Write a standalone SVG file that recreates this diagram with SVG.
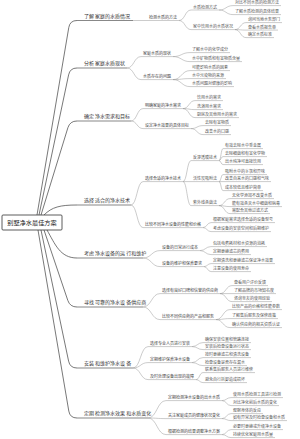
<svg xmlns="http://www.w3.org/2000/svg" width="300" height="439" viewBox="0 0 300 439">
<style>
text{font-family:"Noto Sans CJK SC","Noto Sans",sans-serif}
.r{font-size:6.2px;fill:#222;text-anchor:middle}
.t1{font-size:5px;fill:#333}
.t2{font-size:4px;fill:#444}
.t3{font-size:4px;fill:#555}
.u1{stroke:#555;stroke-width:.7;fill:none}
.u{stroke:#999;stroke-width:.5;fill:none}
.c0{stroke:#555;stroke-width:.8;fill:none}
.c{stroke:#999;stroke-width:.5;fill:none}
</style>
<rect width="300" height="439" fill="#fff"/>
<g id="connectors">
<path class="c0" d="M37,215 L68.8,27.4 Q70,20.5 77,20.5"/>
<path class="c0" d="M39,215 L68.6,74.9 Q70,68 77,68"/>
<path class="c0" d="M41,215 L67.9,127.7 Q70,121 77,121"/>
<path class="c0" d="M44,215 C52,207 60,205 77,205"/>
<path class="c0" d="M47,230 C55,244 60,258 77,258"/>
<path class="c0" d="M44,230 L67.8,300.4 Q70,307 77,307"/>
<path class="c0" d="M41,230 L68.6,361.1 Q70,368 77,368"/>
<path class="c0" d="M38,230 L68.8,411.1 Q70,418 77,418"/>
<path class="c" d="M133,20.5H147"/>
<path class="c" d="M179,20.5C185,20.5 185,10 191,10M179,20.5C185,20.5 185,29.6 191,29.6"/>
<path class="c" d="M219,10C226,10 226,5.6 233,5.6M219,10C226,10 226,14.6 233,14.6"/>
<path class="c" d="M235,29.6C240.5,29.6 240.5,22.6 246,22.6M235,29.6C240.5,29.6 240.5,30.1 246,30.1M235,29.6C240.5,29.6 240.5,37.6 246,37.6"/>
<path class="c" d="M127,68C134,68 134,56.6 141,56.6M127,68C134,68 134,79.6 141,79.6"/>
<path class="c" d="M173,56.6C181.5,56.6 181.5,52.6 190,52.6M173,56.6C181.5,56.6 181.5,61.6 190,61.6"/>
<path class="c" d="M173,79.6C181.5,79.6 181.5,70.6 190,70.6M173,79.6C181.5,79.6 181.5,78.6 190,78.6M173,79.6C181.5,79.6 181.5,86.6 190,86.6"/>
<path class="c" d="M131,121C137,121 137,108.6 143,108.6M131,121C137,121 137,128.6 143,128.6"/>
<path class="c" d="M183,108.6C189,108.6 189,100.6 195,100.6M183,108.6C189,108.6 189,109.6 195,109.6M183,108.6C189,108.6 189,117.6 195,117.6"/>
<path class="c" d="M191,128.6C197,128.6 197,125.6 203,125.6M191,128.6C197,128.6 197,134.6 203,134.6"/>
<path class="c" d="M131,205C137,205 137,181.6 143,181.6M131,205C137,205 137,227.6 143,227.6"/>
<path class="c" d="M183,181.6C187,181.6 187,160.6 191,160.6M183,181.6H191M183,181.6C187,181.6 187,205.6 191,205.6"/>
<path class="c" d="M219,160.6C221,160.6 221,148.6 223,148.6M219,160.6C221,160.6 221,156.6 223,156.6M219,160.6C221,160.6 221,164.6 223,164.6"/>
<path class="c" d="M219,181.6C221,181.6 221,174.6 223,174.6M219,181.6H223M219,181.6C221,181.6 221,190.6 223,190.6"/>
<path class="c" d="M219,205.6C224.5,205.6 224.5,198.6 230,198.6M219,205.6C224.5,205.6 224.5,206.6 230,206.6M219,205.6C224.5,205.6 224.5,213.6 230,213.6"/>
<path class="c" d="M203,227.6C207,227.6 207,222.6 211,222.6M203,227.6C207,227.6 207,231.6 211,231.6"/>
<path class="c" d="M143,258C151.5,258 151.5,250.6 160,250.6M143,258C151.5,258 151.5,266.6 160,266.6"/>
<path class="c" d="M200,250.6C205.5,250.6 205.5,246.6 211,246.6M200,250.6C205.5,250.6 205.5,254.6 211,254.6"/>
<path class="c" d="M204,266.6C207.5,266.6 207.5,263.6 211,263.6M204,266.6C207.5,266.6 207.5,271.6 211,271.6"/>
<path class="c" d="M143,307C151.5,307 151.5,293.6 160,293.6M143,307C151.5,307 151.5,319.6 160,319.6"/>
<path class="c" d="M220,293.6C226,293.6 226,285.6 232,285.6M220,293.6H232M220,293.6C226,293.6 226,301.6 232,301.6"/>
<path class="c" d="M216,319.6C223,319.6 223,309.6 230,309.6M216,319.6C223,319.6 223,318.6 230,318.6M216,319.6C223,319.6 223,327.6 230,327.6"/>
<path class="c" d="M133,368C140.5,368 140.5,346.6 148,346.6M133,368C140.5,368 140.5,362.6 148,362.6M133,368C140.5,368 140.5,379.6 148,379.6"/>
<path class="c" d="M192,346.6C197.5,346.6 197.5,342.6 203,342.6M192,346.6C197.5,346.6 197.5,349.6 203,349.6"/>
<path class="c" d="M192,362.6C197.5,362.6 197.5,357.6 203,357.6M192,362.6C197.5,362.6 197.5,365.6 203,365.6"/>
<path class="c" d="M196,379.6C199.5,379.6 199.5,372.6 203,372.6M196,379.6C199.5,379.6 199.5,382.6 203,382.6"/>
<path class="c" d="M148,418C157,418 157,400.6 166,400.6M148,418C157,418 157,418.6 166,418.6M148,418C157,418 157,434.6 166,434.6"/>
<path class="c" d="M222,400.6C226.5,400.6 226.5,397.6 231,397.6M222,400.6C226.5,400.6 226.5,405.6 231,405.6"/>
<path class="c" d="M222,418.6C226.5,418.6 226.5,413.6 231,413.6M222,418.6C226.5,418.6 226.5,420.6 231,420.6"/>
<path class="c" d="M222,434.6C226.5,434.6 226.5,429.6 231,429.6M222,434.6C226.5,434.6 226.5,437.6 231,437.6"/>
</g>
<g id="root"><rect x="2" y="215" width="60" height="15" rx="1" fill="#fff" stroke="#333" stroke-width=".8"/><text class="r" x="32" y="224.8">别墅净水最佳方案</text></g>

<g id="n1"><path class="u1" d="M77,20.5H133"/><text class="t1" x="84" y="17.5">了解 家庭的水质情况</text></g>
<g id="n1a"><path class="u" d="M147,20.5H179"/><text class="t2" x="149" y="19.3">检测水质的方法</text></g>
<g id="n1a1"><path class="u" d="M191,10H219"/><text class="t3" x="193" y="8.8">水质检测方式</text></g>
<g id="n1a2"><path class="u" d="M191,29.6H235"/><text class="t3" x="193" y="28.4">家中饮用水的水质状况</text></g>
<g id="n1a1a"><path class="u" d="M233,5.6H281"/><text class="t3" x="235" y="4.4">对比不同水质的检测方法</text></g>
<g id="n1a1b"><path class="u" d="M233,14.6H281"/><text class="t3" x="235" y="13.4">了解水质检测的具体结果</text></g>
<g id="n1a2a"><path class="u" d="M246,22.6H282"/><text class="t3" x="248" y="21.4">询问当地水务部门</text></g>
<g id="n1a2b"><path class="u" d="M246,30.1H278"/><text class="t3" x="248" y="28.9">查看水质报告单</text></g>
<g id="n1a2c"><path class="u" d="M246,37.6H274"/><text class="t3" x="248" y="36.4">确定水质标准</text></g>

<g id="n2"><path class="u1" d="M77,68H127"/><text class="t1" x="84" y="65">分析 家庭水质现状</text></g>
<g id="n2a"><path class="u" d="M141,56.6H173"/><text class="t2" x="143" y="55.4">家庭水质的现状</text></g>
<g id="n2b"><path class="u" d="M141,79.6H173"/><text class="t2" x="143" y="78.4">水质存在的问题</text></g>
<g id="n2a1"><path class="u" d="M190,52.6H230"/><text class="t3" x="192" y="51.4">了解水中的化学成分</text></g>
<g id="n2a2"><path class="u" d="M190,61.6H242"/><text class="t3" x="192" y="60.4">水中矿物质和有害物质含量</text></g>
<g id="n2b1"><path class="u" d="M190,70.6H230"/><text class="t3" x="192" y="69.4">可能影响水质的因素</text></g>
<g id="n2b2"><path class="u" d="M190,78.6H226"/><text class="t3" x="192" y="77.4">水中污染物的来源</text></g>
<g id="n2b3"><path class="u" d="M190,86.6H234"/><text class="t3" x="192" y="85.4">水质问题对健康的影响</text></g>

<g id="n3"><path class="u1" d="M77,121H131"/><text class="t1" x="84" y="118">确定 净水需求和目标</text></g>
<g id="n3a"><path class="u" d="M143,108.6H183"/><text class="t2" x="145" y="107.4">明确家庭的净水需求</text></g>
<g id="n3b"><path class="u" d="M143,128.6H191"/><text class="t2" x="145" y="127.4">设定净水效果的具体目标</text></g>
<g id="n3a1"><path class="u" d="M195,100.6H223"/><text class="t3" x="197" y="99.4">饮用水的需求</text></g>
<g id="n3a2"><path class="u" d="M195,109.6H223"/><text class="t3" x="197" y="108.4">洗浴用水需求</text></g>
<g id="n3a3"><path class="u" d="M195,117.6H239"/><text class="t3" x="197" y="116.4">厨房及其他用水的需求</text></g>
<g id="n3b1"><path class="u" d="M203,125.6H231"/><text class="t3" x="205" y="124.4">去除有害物质</text></g>
<g id="n3b2"><path class="u" d="M203,134.6H231"/><text class="t3" x="205" y="133.4">改善水的口感</text></g>

<g id="n4"><path class="u1" d="M77,205H131"/><text class="t1" x="84" y="202">选择 适合的净水技术</text></g>
<g id="n4a"><path class="u" d="M143,181.6H183"/><text class="t2" x="145" y="180.4">选择合适的净水技术</text></g>
<g id="n4b"><path class="u" d="M143,227.6H203"/><text class="t2" x="145" y="226.4">比较不同净水设备的性能和价格</text></g>
<g id="n4a1"><path class="u" d="M191,160.6H219"/><text class="t3" x="193" y="159.4">反渗透膜技术</text></g>
<g id="n4a2"><path class="u" d="M191,181.6H219"/><text class="t3" x="193" y="180.4">活性炭吸附法</text></g>
<g id="n4a3"><path class="u" d="M191,205.6H219"/><text class="t3" x="193" y="204.4">紫外线杀菌法</text></g>
<g id="n4a1a"><path class="u" d="M223,148.6H263"/><text class="t3" x="225" y="147.4">有效去除水中重金属</text></g>
<g id="n4a1b"><path class="u" d="M223,156.6H267"/><text class="t3" x="225" y="155.4">去除细菌和有害化学物</text></g>
<g id="n4a1c"><path class="u" d="M223,164.6H263"/><text class="t3" x="225" y="163.4">出水纯净可直接饮用</text></g>
<g id="n4a2a"><path class="u" d="M223,174.6H267"/><text class="t3" x="225" y="173.4">吸附水中的余氯和异味</text></g>
<g id="n4a2b"><path class="u" d="M223,181.6H271"/><text class="t3" x="225" y="180.4">改善自来水的口感和气味</text></g>
<g id="n4a2c"><path class="u" d="M223,190.6H263"/><text class="t3" x="225" y="189.4">成本较低且维护简单</text></g>
<g id="n4a3a"><path class="u" d="M230,198.6H274"/><text class="t3" x="232" y="197.4">无化学添加不改变水质</text></g>
<g id="n4a3b"><path class="u" d="M230,206.6H282"/><text class="t3" x="232" y="205.4">能有效杀灭水中细菌和病毒</text></g>
<g id="n4a3c"><path class="u" d="M230,213.6H270"/><text class="t3" x="232" y="212.4">需配合其他过滤方式</text></g>
<g id="n4b1"><path class="u" d="M211,222.6H275"/><text class="t3" x="213" y="221.4">根据家庭需求选择合适的设备型号</text></g>
<g id="n4b2"><path class="u" d="M211,231.6H271"/><text class="t3" x="213" y="230.4">考虑设备的安装空间和后期维护</text></g>

<g id="n5"><path class="u1" d="M77,258H143"/><text class="t1" x="84" y="255">考虑 净水设备的运 行和维护</text></g>
<g id="n5a"><path class="u" d="M160,250.6H200"/><text class="t2" x="162" y="249.4">设备的日常运行成本</text></g>
<g id="n5b"><path class="u" d="M160,266.6H204"/><text class="t2" x="162" y="265.4">设备的维护和保养要求</text></g>
<g id="n5a1"><path class="u" d="M211,246.6H267"/><text class="t3" x="213" y="245.4">包括电费耗材和水资源的消耗</text></g>
<g id="n5a2"><path class="u" d="M211,254.6H251"/><text class="t3" x="213" y="253.4">定期更换滤芯的费用</text></g>
<g id="n5b1"><path class="u" d="M211,263.6H275"/><text class="t3" x="213" y="262.4">定期清洗和更换滤芯保证净水效果</text></g>
<g id="n5b2"><path class="u" d="M211,271.6H251"/><text class="t3" x="213" y="270.4">注意设备的使用寿命</text></g>

<g id="n6"><path class="u1" d="M77,307H143"/><text class="t1" x="84" y="304">寻找 可靠的净水设 备供应商</text></g>
<g id="n6a"><path class="u" d="M160,293.6H220"/><text class="t2" x="162" y="292.4">选择有良好口碑和信誉的供应商</text></g>
<g id="n6b"><path class="u" d="M160,319.6H216"/><text class="t2" x="162" y="318.4">比较不同供应商的产品和服务</text></g>
<g id="n6a1"><path class="u" d="M232,285.6H268"/><text class="t3" x="234" y="284.4">查看用户评价反馈</text></g>
<g id="n6a2"><path class="u" d="M232,293.6H276"/><text class="t3" x="234" y="292.4">了解品牌的市场知名度</text></g>
<g id="n6a3"><path class="u" d="M232,301.6H272"/><text class="t3" x="234" y="300.4">咨询亲友的使用经验</text></g>
<g id="n6b1"><path class="u" d="M230,309.6H282"/><text class="t3" x="232" y="308.4">比较产品的价格和性能参数</text></g>
<g id="n6b2"><path class="u" d="M230,318.6H278"/><text class="t3" x="232" y="317.4">了解售后服务及保修政策</text></g>
<g id="n6b3"><path class="u" d="M230,327.6H282"/><text class="t3" x="232" y="326.4">确认供应商的相关资质认证</text></g>

<g id="n7"><path class="u1" d="M77,368H133"/><text class="t1" x="84" y="365">安装 和维护净水设 备</text></g>
<g id="n7a"><path class="u" d="M148,346.6H192"/><text class="t2" x="150" y="345.4">选择专业人员进行安装</text></g>
<g id="n7b"><path class="u" d="M148,362.6H192"/><text class="t2" x="150" y="361.4">定期维护保养净水设备</text></g>
<g id="n7c"><path class="u" d="M148,379.6H196"/><text class="t2" x="150" y="378.4">及时处理设备出现的故障</text></g>
<g id="n7a1"><path class="u" d="M203,342.6H251"/><text class="t3" x="205" y="341.4">确保安装位置和管路连接</text></g>
<g id="n7a2"><path class="u" d="M203,349.6H251"/><text class="t3" x="205" y="348.4">安装后检查设备运行状态</text></g>
<g id="n7b1"><path class="u" d="M203,357.6H251"/><text class="t3" x="205" y="356.4">按时更换滤芯和清洗设备</text></g>
<g id="n7b2"><path class="u" d="M203,365.6H247"/><text class="t3" x="205" y="364.4">检查设备是否存在漏水</text></g>
<g id="n7c1"><path class="u" d="M203,372.6H255"/><text class="t3" x="205" y="371.4">联系售后服务人员进行维修</text></g>
<g id="n7c2"><path class="u" d="M203,382.6H247"/><text class="t3" x="205" y="381.4">避免自行拆卸造成损坏</text></g>

<g id="n8"><path class="u1" d="M77,418H148"/><text class="t1" x="84" y="415">定期 检测净水效果 和水质变化</text></g>
<g id="n8a"><path class="u" d="M166,400.6H222"/><text class="t2" x="168" y="399.4">定期检测净水设备的出水水质</text></g>
<g id="n8b"><path class="u" d="M166,418.6H222"/><text class="t2" x="168" y="417.4">关注家庭成员的健康状况变化</text></g>
<g id="n8c"><path class="u" d="M166,434.6H222"/><text class="t2" x="168" y="433.4">根据检测的结果调整净水方案</text></g>
<g id="n8a1"><path class="u" d="M231,397.6H283"/><text class="t3" x="233" y="396.4">使用水质检测工具进行检测</text></g>
<g id="n8a2"><path class="u" d="M231,405.6H279"/><text class="t3" x="233" y="404.4">对比净化前后水质的变化</text></g>
<g id="n8b1"><path class="u" d="M231,413.6H263"/><text class="t3" x="233" y="412.4">观察身体的反应</text></g>
<g id="n8b2"><path class="u" d="M231,420.6H287"/><text class="t3" x="233" y="419.4">如有异常及时检查设备和水质</text></g>
<g id="n8c1"><path class="u" d="M231,429.6H283"/><text class="t3" x="233" y="428.4">必要时更换或升级净水设备</text></g>
<g id="n8c2"><path class="u" d="M231,437.6H275"/><text class="t3" x="233" y="436.4">持续优化家庭用水质量</text></g>
</svg>
